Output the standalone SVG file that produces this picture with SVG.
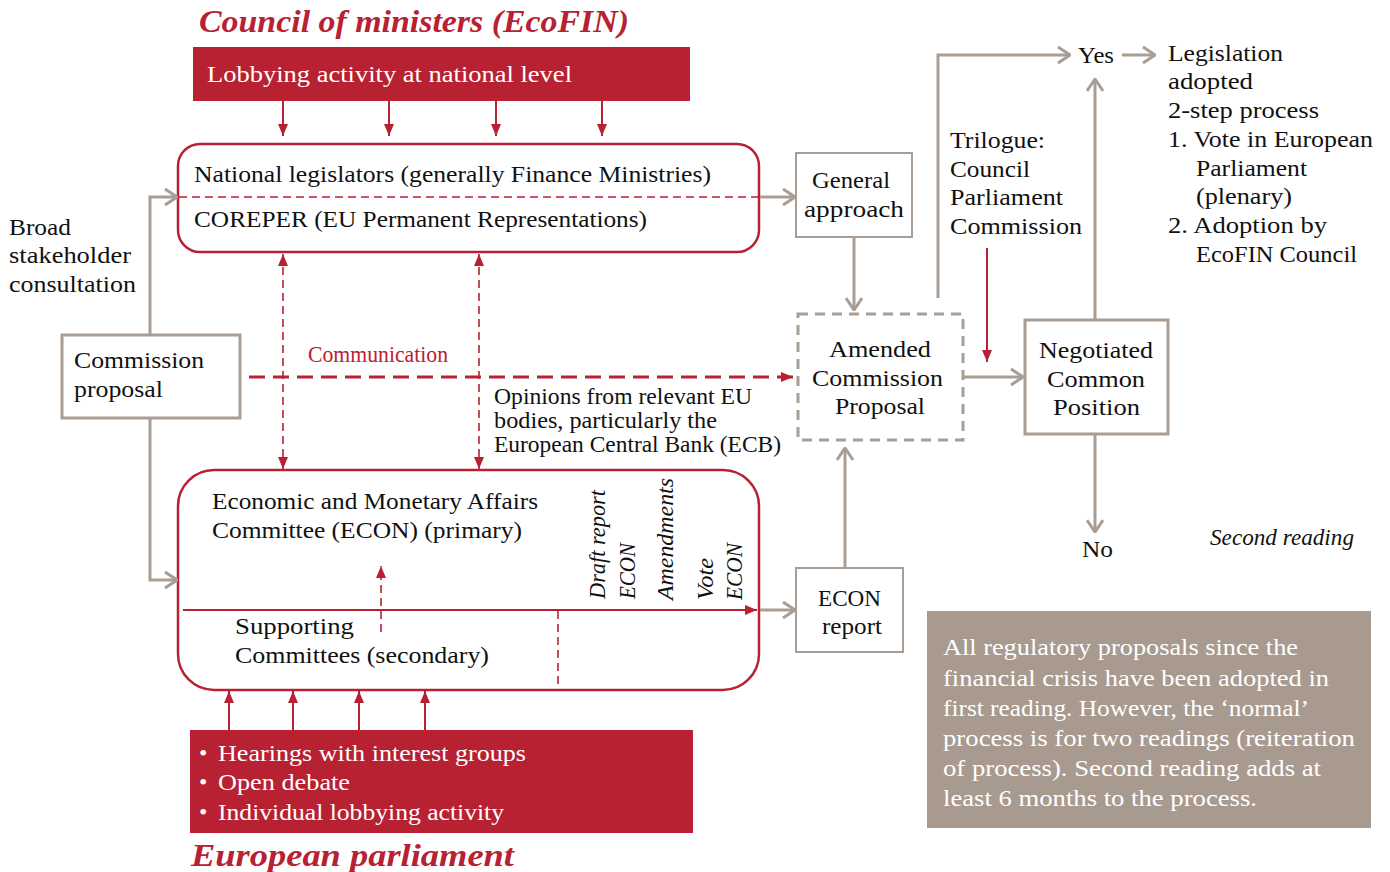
<svg xmlns="http://www.w3.org/2000/svg" width="1390" height="872" viewBox="0 0 1390 872">
<defs>
<style>
text{font-family:"Liberation Serif","DejaVu Serif",serif;font-size:24px;fill:#111}
.w{fill:#fff}
.r{fill:#B82132}
.title{font-size:32px;font-weight:bold;font-style:italic;fill:#B82132}
.it{font-style:italic}
.g{stroke:#A99D94;stroke-width:3;fill:none}
.gb{stroke:#A99D94;stroke-width:3;fill:#fff}
.rl{stroke:#B82132;stroke-width:2;fill:none}
.rd{stroke:#B82132;stroke-width:1.6;fill:none;stroke-dasharray:8,5}
.mid{text-anchor:middle}
</style>
<marker id="ga" viewBox="0 0 14 18" refX="13" refY="9" markerWidth="14" markerHeight="18" markerUnits="userSpaceOnUse" orient="auto"><path d="M1,1 L13,9 L1,17" fill="none" stroke="#A99D94" stroke-width="3"/></marker>
<marker id="ra" viewBox="0 0 12 10" refX="12" refY="5" markerWidth="12" markerHeight="10" markerUnits="userSpaceOnUse" orient="auto-start-reverse"><path d="M0,0 L12,5 L0,10 z" fill="#B82132"/></marker>
</defs>
<rect width="1390" height="872" fill="#fff"/>

<text class="title" x="199" y="32" textLength="430" lengthAdjust="spacingAndGlyphs">Council of ministers (EcoFIN)</text>
<text class="title" x="191" y="866" textLength="323" lengthAdjust="spacingAndGlyphs">European parliament</text>

<g id="lobby-national">
<rect x="193" y="47" width="497" height="54" fill="#B82132"/>
<text class="w" x="207" y="82" textLength="365" lengthAdjust="spacingAndGlyphs">Lobbying activity at national level</text>
</g>

<g id="council-box">
<rect x="178" y="144" width="581" height="108" rx="22" fill="#fff" stroke="#B82132" stroke-width="2.5"/>
<line x1="179" y1="197" x2="758" y2="197" class="rd"/>
<text x="194" y="182" textLength="517" lengthAdjust="spacingAndGlyphs">National legislators (generally Finance Ministries)</text>
<text x="194" y="227" textLength="453" lengthAdjust="spacingAndGlyphs">COREPER (EU Permanent Representations)</text>
</g>

<g id="broad">
<text x="9" y="235" textLength="62" lengthAdjust="spacingAndGlyphs">Broad</text>
<text x="9" y="263" textLength="122" lengthAdjust="spacingAndGlyphs">stakeholder</text>
<text x="9" y="292" textLength="127" lengthAdjust="spacingAndGlyphs">consultation</text>
</g>

<g id="commission-proposal">
<rect x="62" y="335" width="178" height="83" class="gb"/>
<text x="74" y="368" textLength="130" lengthAdjust="spacingAndGlyphs">Commission</text>
<text x="74" y="397" textLength="89" lengthAdjust="spacingAndGlyphs">proposal</text>
</g>

<g id="econ-box">
<rect x="178" y="470" width="581" height="220" rx="36" fill="#fff" stroke="#B82132" stroke-width="2.5"/>
<text x="212" y="509" textLength="326" lengthAdjust="spacingAndGlyphs">Economic and Monetary Affairs</text>
<text x="212" y="538" textLength="310" lengthAdjust="spacingAndGlyphs">Committee (ECON) (primary)</text>
<text x="235" y="634" textLength="119" lengthAdjust="spacingAndGlyphs">Supporting</text>
<text x="235" y="663" textLength="254" lengthAdjust="spacingAndGlyphs">Committees (secondary)</text>
<text class="it" font-size="22" transform="translate(605,599) rotate(-90)" textLength="109" lengthAdjust="spacingAndGlyphs">Draft report</text>
<text class="it" font-size="22" transform="translate(635,599) rotate(-90)" textLength="56" lengthAdjust="spacingAndGlyphs">ECON</text>
<text class="it" font-size="22" transform="translate(673,600) rotate(-90)" textLength="122" lengthAdjust="spacingAndGlyphs">Amendments</text>
<text class="it" font-size="22" transform="translate(713,600) rotate(-90)" textLength="42" lengthAdjust="spacingAndGlyphs">Vote</text>
<text class="it" font-size="22" transform="translate(742,600) rotate(-90)" textLength="57" lengthAdjust="spacingAndGlyphs">ECON</text>
</g>

<g id="lobby-ep">
<rect x="190" y="730" width="503" height="103" fill="#B82132"/>
<text class="w" x="199" y="761">•</text>
<text class="w" x="218" y="761" textLength="308" lengthAdjust="spacingAndGlyphs">Hearings with interest groups</text>
<text class="w" x="199" y="790">•</text>
<text class="w" x="218" y="790" textLength="132" lengthAdjust="spacingAndGlyphs">Open debate</text>
<text class="w" x="199" y="820">•</text>
<text class="w" x="218" y="820" textLength="286" lengthAdjust="spacingAndGlyphs">Individual lobbying activity</text>
</g>

<g id="opinions">
<text x="494" y="404" font-size="19" textLength="258" lengthAdjust="spacingAndGlyphs">Opinions from relevant EU</text>
<text x="494" y="428" font-size="19" textLength="223" lengthAdjust="spacingAndGlyphs">bodies, particularly the</text>
<text x="494" y="452" font-size="19" textLength="287" lengthAdjust="spacingAndGlyphs">European Central Bank (ECB)</text>
</g>

<g id="communication-label">
<text class="r" x="308" y="362" font-size="18" textLength="140" lengthAdjust="spacingAndGlyphs">Communication</text>
</g>

<g id="general-approach">
<rect x="796" y="153" width="116" height="84" fill="#fff" stroke="#A99D94" stroke-width="2"/>
<text class="mid" x="851" y="188" textLength="78" lengthAdjust="spacingAndGlyphs">General</text>
<text class="mid" x="854" y="217" textLength="100" lengthAdjust="spacingAndGlyphs">approach</text>
</g>

<g id="amended">
<rect x="798" y="314" width="165" height="126" fill="#fff" stroke="#A99D94" stroke-width="3" stroke-dasharray="10,7"/>
<text class="mid" x="880" y="357" textLength="102" lengthAdjust="spacingAndGlyphs">Amended</text>
<text class="mid" x="877.5" y="386" textLength="131" lengthAdjust="spacingAndGlyphs">Commission</text>
<text class="mid" x="880" y="414" textLength="90" lengthAdjust="spacingAndGlyphs">Proposal</text>
</g>

<g id="econ-report">
<rect x="796" y="568" width="107" height="84" fill="#fff" stroke="#A99D94" stroke-width="2"/>
<text class="mid" x="849.5" y="606" textLength="63" lengthAdjust="spacingAndGlyphs">ECON</text>
<text class="mid" x="852" y="634" textLength="60" lengthAdjust="spacingAndGlyphs">report</text>
</g>

<g id="trilogue">
<text x="950" y="148" textLength="95" lengthAdjust="spacingAndGlyphs">Trilogue:</text>
<text x="950" y="177" textLength="80" lengthAdjust="spacingAndGlyphs">Council</text>
<text x="950" y="205" textLength="113" lengthAdjust="spacingAndGlyphs">Parliament</text>
<text x="950" y="234" textLength="132" lengthAdjust="spacingAndGlyphs">Commission</text>
</g>

<g id="negotiated">
<rect x="1025" y="320" width="143" height="114" class="gb"/>
<text class="mid" x="1096" y="358" textLength="114" lengthAdjust="spacingAndGlyphs">Negotiated</text>
<text class="mid" x="1096" y="387" textLength="98" lengthAdjust="spacingAndGlyphs">Common</text>
<text class="mid" x="1096.5" y="415" textLength="87" lengthAdjust="spacingAndGlyphs">Position</text>
</g>

<g id="yes"><text x="1078" y="63" textLength="36" lengthAdjust="spacingAndGlyphs">Yes</text></g>
<g id="no"><text x="1082" y="557" textLength="31" lengthAdjust="spacingAndGlyphs">No</text></g>

<g id="legislation">
<text x="1168" y="61" textLength="115" lengthAdjust="spacingAndGlyphs">Legislation</text>
<text x="1168" y="89" textLength="85" lengthAdjust="spacingAndGlyphs">adopted</text>
<text x="1168" y="118" textLength="151" lengthAdjust="spacingAndGlyphs">2-step process</text>
<text x="1168" y="147" textLength="205" lengthAdjust="spacingAndGlyphs">1. Vote in European</text>
<text x="1196" y="176" textLength="111" lengthAdjust="spacingAndGlyphs">Parliament</text>
<text x="1196" y="204" textLength="96" lengthAdjust="spacingAndGlyphs">(plenary)</text>
<text x="1168" y="233" textLength="159" lengthAdjust="spacingAndGlyphs">2. Adoption by</text>
<text x="1196" y="262" textLength="161" lengthAdjust="spacingAndGlyphs">EcoFIN Council</text>
</g>

<g id="second-reading"><text class="it" x="1210" y="545" textLength="144" lengthAdjust="spacingAndGlyphs">Second reading</text></g>

<g id="note">
<rect x="927" y="611" width="444" height="217" fill="#A89A8F"/>
<text class="w" x="943" y="655" textLength="355" lengthAdjust="spacingAndGlyphs">All regulatory proposals since the</text>
<text class="w" x="943" y="686" textLength="386" lengthAdjust="spacingAndGlyphs">financial crisis have been adopted in</text>
<text class="w" x="943" y="716" textLength="366" lengthAdjust="spacingAndGlyphs">first reading. However, the ‘normal’</text>
<text class="w" x="943" y="746" textLength="412" lengthAdjust="spacingAndGlyphs">process is for two  readings (reiteration</text>
<text class="w" x="943" y="776" textLength="378" lengthAdjust="spacingAndGlyphs">of process). Second reading adds at</text>
<text class="w" x="943" y="806" textLength="314" lengthAdjust="spacingAndGlyphs">least 6 months to the process.</text>
</g>

<g id="connectors">
<line x1="283" y1="101" x2="283" y2="136" class="rl" marker-end="url(#ra)"/>
<line x1="389" y1="101" x2="389" y2="136" class="rl" marker-end="url(#ra)"/>
<line x1="496" y1="101" x2="496" y2="136" class="rl" marker-end="url(#ra)"/>
<line x1="602" y1="101" x2="602" y2="136" class="rl" marker-end="url(#ra)"/>

<line x1="229" y1="730" x2="229" y2="691" class="rl" marker-end="url(#ra)"/>
<line x1="293" y1="730" x2="293" y2="691" class="rl" marker-end="url(#ra)"/>
<line x1="359" y1="730" x2="359" y2="691" class="rl" marker-end="url(#ra)"/>
<line x1="425" y1="730" x2="425" y2="691" class="rl" marker-end="url(#ra)"/>

<line x1="283" y1="254" x2="283" y2="469" class="rd" marker-start="url(#ra)" marker-end="url(#ra)"/>
<line x1="479" y1="254" x2="479" y2="469" class="rd" marker-start="url(#ra)" marker-end="url(#ra)"/>

<line x1="249" y1="377" x2="793" y2="377" stroke="#B82132" stroke-width="3" stroke-dasharray="16,8" marker-end="url(#ra)"/>

<line x1="183" y1="610" x2="757" y2="610" class="rl" marker-end="url(#ra)"/>
<line x1="558" y1="611" x2="558" y2="689" class="rd"/>
<line x1="381" y1="632" x2="381" y2="566" class="rd" marker-end="url(#ra)"/>

<path d="M150,335 V197 H177" class="g" marker-end="url(#ga)"/>
<path d="M150,418 V580 H177" class="g" marker-end="url(#ga)"/>

<line x1="760" y1="197" x2="795" y2="197" class="g" marker-end="url(#ga)"/>
<line x1="760" y1="610" x2="795" y2="610" class="g" marker-end="url(#ga)"/>
<line x1="854" y1="237" x2="854" y2="310" class="g" marker-end="url(#ga)"/>
<line x1="845" y1="568" x2="845" y2="448" class="g" marker-end="url(#ga)"/>
<line x1="964" y1="377" x2="1023" y2="377" class="g" marker-end="url(#ga)"/>
<path d="M938,298 V55 H1070" class="g" marker-end="url(#ga)"/>
<line x1="1122" y1="55" x2="1155" y2="55" class="g" marker-end="url(#ga)"/>
<line x1="1095" y1="320" x2="1095" y2="79" class="g" marker-end="url(#ga)"/>
<line x1="1095" y1="435" x2="1095" y2="532" class="g" marker-end="url(#ga)"/>
<line x1="987" y1="248" x2="987" y2="362" class="rl" marker-end="url(#ra)"/>
</g>
</svg>
